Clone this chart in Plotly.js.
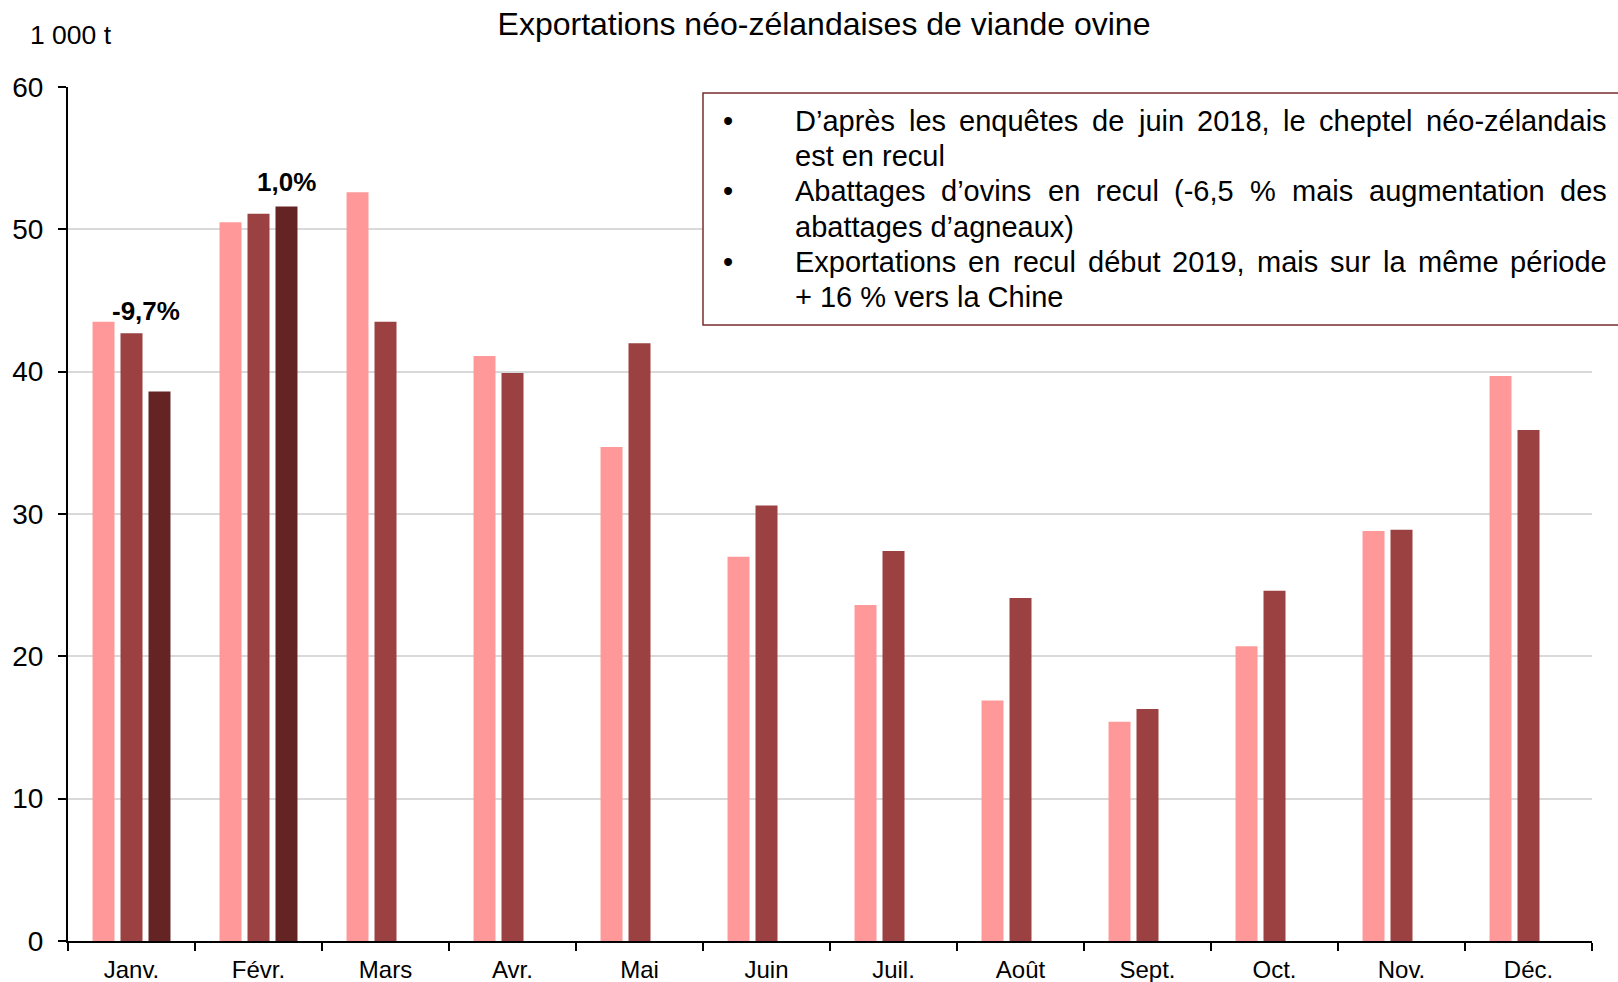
<!DOCTYPE html>
<html>
<head>
<meta charset="utf-8">
<script src="https://cdn.plot.ly/plotly-3.0.1.min.js"></script>
<style>html,body{margin:0;padding:0;background:#fff;}#chart{width:1618px;height:982px;}</style>
</head>
<body>
<div id="chart"></div>
<script>
// ---- Data ----
const months = ['Janv.', 'Févr.', 'Mars', 'Avr.', 'Mai', 'Juin', 'Juil.', 'Août', 'Sept.', 'Oct.', 'Nov.', 'Déc.'];
const exports2017 = [43.5, 50.5, 52.6, 41.1, 34.7, 27.0, 23.6, 16.9, 15.4, 20.7, 28.8, 39.7];
const exports2018 = [42.7, 51.1, 43.5, 39.9, 42.0, 30.6, 27.4, 24.1, 16.3, 24.6, 28.9, 35.9];
const exports2019 = [38.6, 51.6, null, null, null, null, null, null, null, null, null, null];
const seriesNames = ['2017', '2018', '2019'];
const changeLabels = ['-9,7%', '1,0%'];
const yTicks = [0, 10, 20, 30, 40, 50, 60];
const chartTitle = 'Exportations néo-zélandaises de viande ovine';
const unitLabel = '1 000 t';
const noteLines = [
  {text: 'D’après les enquêtes de juin 2018, le cheptel néo-zélandais', bullet: true, justify: true},
  {text: 'est en recul', bullet: false, justify: false},
  {text: 'Abattages d’ovins en recul (-6,5 % mais augmentation des', bullet: true, justify: true},
  {text: 'abattages d’agneaux)', bullet: false, justify: false},
  {text: 'Exportations en recul début 2019, mais sur la même période', bullet: true, justify: true},
  {text: '+ 16 % vers la Chine', bullet: false, justify: false}
];

// ---- Layout constants (pixels) ----
const W = 1618, H = 982;
const M = {l: 68, r: 26, t: 87, b: 41};
const PW = W - M.l - M.r, PH = H - M.t - M.b;
const FONT = 'Liberation Sans, Arial, sans-serif';
const px2x = p => (p - M.l) / PW;
const py2y = p => (H - M.b - p) / PH;

const colors = ['#FF9999', '#9B4141', '#652424'];
const allSeries = [exports2017, exports2018, exports2019];

const traces = allSeries.map((vals, i) => ({
  type: 'bar',
  x: months,
  y: vals,
  name: seriesNames[i],
  marker: {color: colors[i], line: {width: 0}},
  hoverinfo: 'x+y+name'
}));

// ---- Text box ----
const boxFontSize = 29;
const ctx = document.createElement('canvas').getContext('2d');
ctx.font = boxFontSize + 'px "Liberation Sans", Arial, sans-serif';
const textLeft = 795, textRight = 1607, bulletX = 728;
const lineY0 = 121, lineStep = 35.2;
const annotations = [];
noteLines.forEach((ln, i) => {
  const yc = lineY0 + i * lineStep;
  if (ln.bullet) {
    annotations.push({xref: 'paper', yref: 'paper', x: px2x(bulletX), y: py2y(yc), xanchor: 'center', yanchor: 'middle',
      text: '•', showarrow: false, font: {family: FONT, size: boxFontSize, color: '#000'}});
  }
  if (ln.justify) {
    const words = ln.text.split(' ');
    const widths = words.map(w => ctx.measureText(w).width);
    const sumW = widths.reduce((a, b) => a + b, 0);
    const gap = (textRight - textLeft - sumW) / (words.length - 1);
    let xp = textLeft;
    words.forEach((w, k) => {
      annotations.push({xref: 'paper', yref: 'paper', x: px2x(xp - 2), y: py2y(yc), xanchor: 'left', yanchor: 'middle',
        text: w, showarrow: false, font: {family: FONT, size: boxFontSize, color: '#000'}});
      xp += widths[k] + gap;
    });
  } else {
    annotations.push({xref: 'paper', yref: 'paper', x: px2x(textLeft - 2), y: py2y(yc), xanchor: 'left', yanchor: 'middle',
      text: ln.text, showarrow: false, font: {family: FONT, size: boxFontSize, color: '#000'}});
  }
});

// unit label
annotations.push({xref: 'paper', yref: 'paper', x: px2x(71), y: py2y(35), xanchor: 'center', yanchor: 'middle',
  text: unitLabel, showarrow: false, font: {family: FONT, size: 26.5, color: '#000'}});

// change labels
annotations.push({xref: 'x', yref: 'y', x: months[0], y: exports2018[0], xshift: 14.5, yshift: 22, xanchor: 'center', yanchor: 'middle',
  text: '<b>' + changeLabels[0] + '</b>', showarrow: false, font: {family: FONT, size: 26, color: '#000'}});
annotations.push({xref: 'x', yref: 'y', x: months[1], y: exports2019[1], xshift: 28, yshift: 25, xanchor: 'center', yanchor: 'middle',
  text: '<b>' + changeLabels[1] + '</b>', showarrow: false, font: {family: FONT, size: 26, color: '#000'}});

const shapes = [{
  type: 'rect', xref: 'paper', yref: 'paper', layer: 'above',
  x0: px2x(703), x1: px2x(1640), y0: py2y(325), y1: py2y(93),
  fillcolor: '#FFFFFF', line: {color: '#7B2C2C', width: 1.5}
}];

const layout = {
  width: W, height: H, autosize: false,
  margin: M,
  paper_bgcolor: '#FFFFFF', plot_bgcolor: '#FFFFFF',
  showlegend: false,
  barmode: 'group',
  bargap: 0.339,
  bargroupgap: 0.214,
  font: {family: FONT, color: '#000'},
  title: {text: chartTitle, font: {family: FONT, size: 32, color: '#000'},
    xref: 'container', yref: 'container', x: 824 / W, y: 1 - 24 / H, xanchor: 'center', yanchor: 'middle'},
  xaxis: {
    type: 'category', categoryorder: 'array', categoryarray: months,
    showline: true, linecolor: '#000', linewidth: 2,
    ticks: 'outside', tickson: 'boundaries', ticklen: 8, tickwidth: 2, tickcolor: '#000',
    tickfont: {family: FONT, size: 24, color: '#000'}, ticklabelstandoff: 6,
    showgrid: false, zeroline: false, fixedrange: true
  },
  yaxis: {
    range: [0, 60], tickvals: yTicks, ticktext: yTicks.map(String),
    showline: true, linecolor: '#000', linewidth: 2,
    ticks: 'outside', ticklen: 8, tickwidth: 2, tickcolor: '#000',
    tickfont: {family: FONT, size: 28, color: '#000'}, ticklabelstandoff: 9,
    showgrid: true, gridcolor: '#D9D9D9', gridwidth: 2,
    zeroline: false, fixedrange: true
  },
  shapes: shapes,
  annotations: annotations
};

Plotly.newPlot('chart', traces, layout, {displayModeBar: false, staticPlot: true});
</script>
</body>
</html>
